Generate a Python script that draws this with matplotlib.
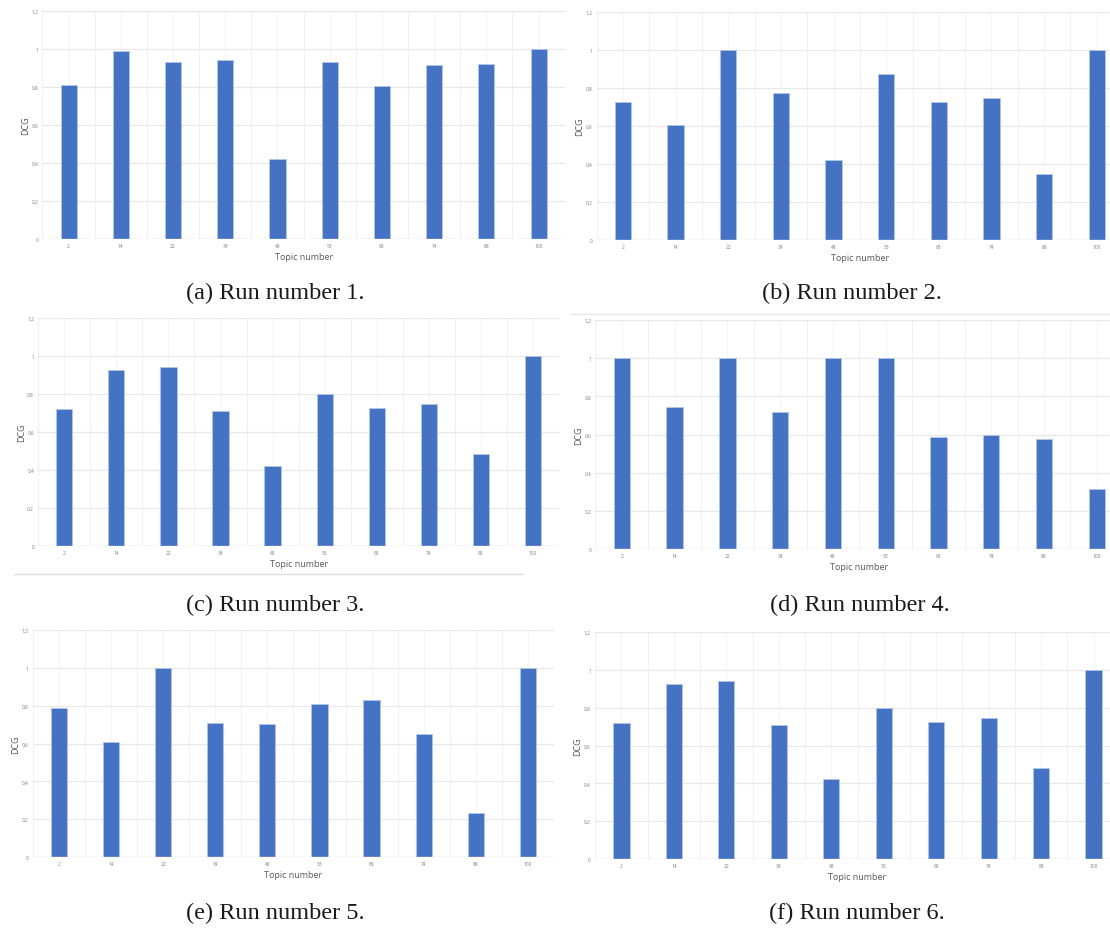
import matplotlib.pyplot as plt
from matplotlib.lines import Line2D

topics = ['2', '14', '22', '34', '48', '53', '68', '74', '88', '100']
y_ticks = [0, 0.2, 0.4, 0.6, 0.8, 1.0, 1.2]
y_tick_labels = ['0', '0,2', '0,4', '0,6', '0,8', '1', '1,2']

run1 = [0.81, 0.99, 0.93, 0.94, 0.42, 0.93, 0.805, 0.915, 0.92, 1.0]
run2 = [0.725, 0.605, 1.0, 0.77, 0.42, 0.87, 0.725, 0.745, 0.343, 1.0]
run3 = [0.72, 0.925, 0.94, 0.71, 0.42, 0.80, 0.726, 0.745, 0.482, 1.0]
run4 = [1.0, 0.746, 1.0, 0.718, 1.0, 1.0, 0.585, 0.596, 0.575, 0.313]
run5 = [0.788, 0.606, 1.0, 0.708, 0.701, 0.808, 0.828, 0.651, 0.232, 1.0]
run6 = [0.719, 0.924, 0.939, 0.71, 0.421, 0.80, 0.725, 0.745, 0.481, 1.0]

captions = ['(a) Run number 1.', '(b) Run number 2.', '(c) Run number 3.',
            '(d) Run number 4.', '(e) Run number 5.', '(f) Run number 6.']

W, H = 1110, 929
fig = plt.figure(figsize=(W / 100, H / 100), dpi=100)

# panel placement in pixels: first bar centre, last bar centre, y of 1.2, y of 0
panels = [
    (run1, (68.6, 538.6, 12, 240), (275, 293)),
    (run2, (622.9, 1096.8, 12.5, 240.7), (852, 293)),
    (run3, (64.3, 532.9, 319, 547), (275, 605)),
    (run4, (621.8, 1096.8, 321, 550), (860, 605)),
    (run5, (58.9, 527.9, 631, 858), (275, 913)),
    (run6, (621.4, 1093.6, 633, 860), (857, 913)),
]

bar_color = '#4472C4'
grid_color = '#e8e8e8'
text_gray = '#595959'

for (values, (c0, c9, ytop, ybot), (cx, cy)), cap in zip(panels, captions):
    step = (c9 - c0) / 9
    x0 = c0 - step / 2
    x1 = c9 + step / 2
    ax = fig.add_axes([x0 / W, 1 - ybot / H, (x1 - x0) / W, (ybot - ytop) / H])

    xs = list(range(len(topics)))
    # faint vertical grid at boundaries and centres
    for i in range(len(topics) + 1):
        ax.axvline(i - 0.5, color='#f0f0f0', lw=0.7, zorder=0)
    for i in xs:
        ax.axvline(i, color='#f3f3f3', lw=0.7, zorder=0)
    for t in y_ticks[1:]:
        ax.axhline(t, color=grid_color, lw=0.9, zorder=0)
    ax.axhline(0, color='#d9d9d9', lw=1.0, zorder=3)

    ax.bar(xs, values, width=0.31, color=bar_color, edgecolor='#b4c7e7',
           linewidth=0.6, zorder=2)

    ax.set_xlim(-0.5, len(topics) - 0.5)
    ax.set_ylim(0, 1.2)
    ax.set_xticks(xs)
    ax.set_xticklabels(topics)
    ax.set_yticks(y_ticks)
    ax.set_yticklabels(y_tick_labels)
    ax.tick_params(length=0, labelsize=3.5, labelcolor='#7f7f7f', pad=3,
                   labelfontfamily='Open Sans')
    for s in ax.spines.values():
        s.set_visible(False)
    ax.set_xlabel('Topic number', fontsize=6.5, color=text_gray,
                  family='Open Sans', labelpad=3)
    ax.set_ylabel('DCG', fontsize=6.5, color=text_gray, family='Open Sans',
                  labelpad=1)

    fig.text(cx / W, 1 - cy / H, cap, ha='center', va='center',
             fontsize=17.5, family='Liberation Serif', color='#1a1a1a')

# thin separator lines left over from the screenshot
fig.add_artist(Line2D([14 / W, 523 / W], [1 - 575 / H, 1 - 575 / H],
                      color='#e0e0e0', lw=1.0))
fig.add_artist(Line2D([570 / W, 1110 / W], [1 - 315 / H, 1 - 315 / H],
                      color='#e8e8e8', lw=1.0))

fig.savefig('out.png', dpi=100)
